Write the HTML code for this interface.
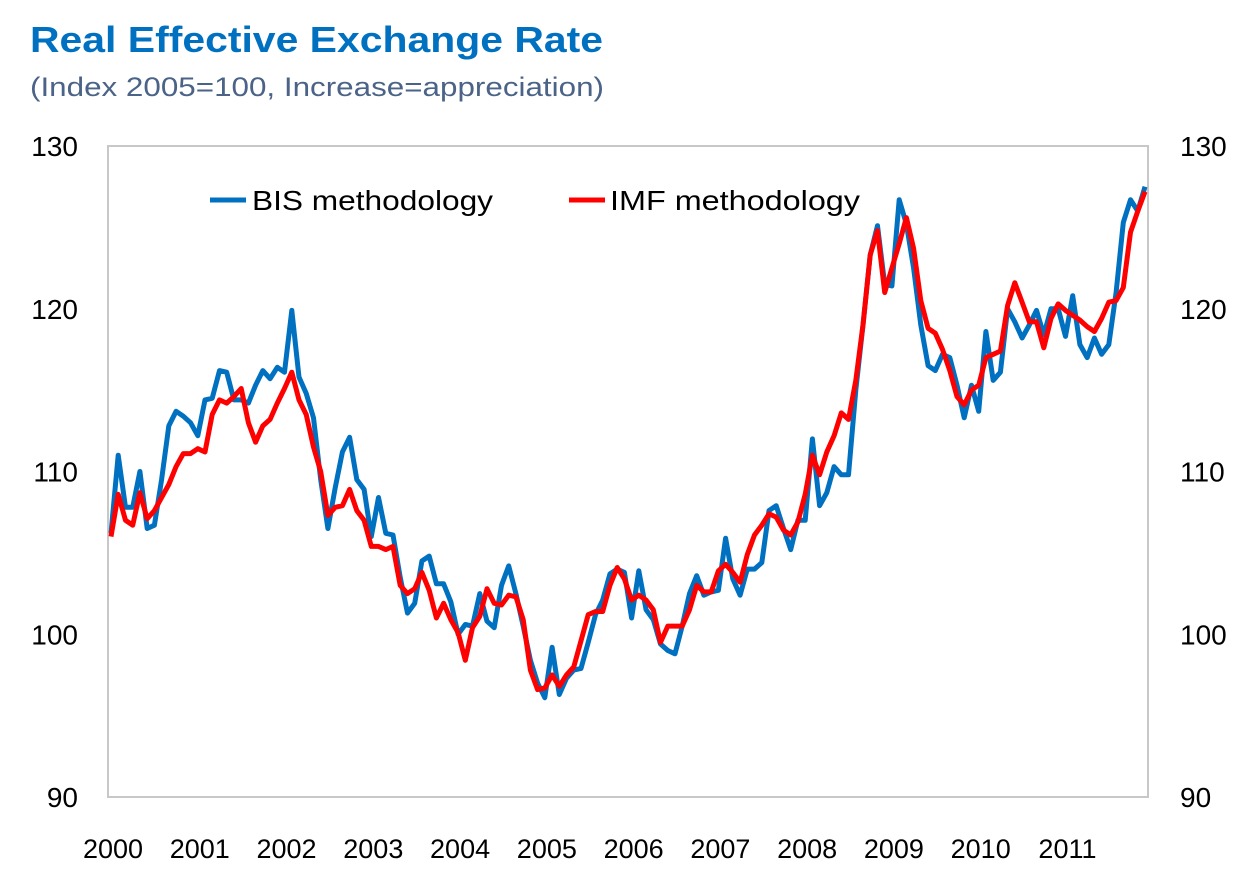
<!DOCTYPE html>
<html><head><meta charset="utf-8"><style>
html,body{margin:0;padding:0;background:#fff;}
svg{display:block;font-family:"Liberation Sans",sans-serif;}
</style></head><body>
<svg id="chart" width="1239" height="883" viewBox="0 0 1239 883" xmlns="http://www.w3.org/2000/svg">
<text x="30" y="52" font-size="36" font-weight="bold" fill="#0070C0" textLength="573" lengthAdjust="spacingAndGlyphs">Real Effective Exchange Rate</text>
<text x="30" y="96" font-size="27" fill="#4A6387" textLength="574" lengthAdjust="spacingAndGlyphs">(Index 2005=100, Increase=appreciation)</text>
<rect x="108" y="146" width="1040" height="651" fill="none" stroke="#C8C8C8" stroke-width="2"/>
<g id="yl"></g><g id="yr"></g><g id="xl"></g><g id="series"></g>
<g>
<line x1="210" y1="200" x2="246" y2="200" stroke="#0070C0" stroke-width="5"/>
<text x="252" y="210" font-size="28" fill="#000" textLength="241" lengthAdjust="spacingAndGlyphs">BIS methodology</text>
<line x1="569" y1="200" x2="605" y2="200" stroke="#FF0000" stroke-width="5"/>
<text x="610" y="210" font-size="28" fill="#000" textLength="250" lengthAdjust="spacingAndGlyphs">IMF methodology</text>
</g>
</svg>
<script>
const years = ["2000","2001","2002","2003","2004","2005","2006","2007","2008","2009","2010","2011"];
const yTicks = [90,100,110,120,130];
const bis = [106.2,111,107.8,107.8,110,106.5,106.7,109.5,112.8,113.7,113.4,113,
112.2,114.4,114.5,116.2,116.1,114.4,114.4,114.2,115.3,116.2,115.7,116.4,
116.1,119.9,115.8,114.8,113.3,109.5,106.5,109,111.2,112.1,109.5,108.9,
106,108.4,106.2,106.1,103.5,101.3,101.9,104.5,104.8,103.1,103.1,102,
100,100.6,100.5,102.5,100.8,100.4,103,104.2,102.5,100.5,98.4,97,
96.1,99.2,96.3,97.3,97.8,97.9,99.5,101.2,102.1,103.7,104,103.8,
101,103.9,101.5,100.9,99.4,99,98.8,100.5,102.5,103.6,102.4,102.6,
102.7,105.9,103.4,102.4,104,104,104.4,107.6,107.9,106.5,105.2,107,
107,112,107.9,108.7,110.3,109.8,109.8,115,119,123.3,125.1,121.5,
121.4,126.7,125.2,122.5,119,116.5,116.2,117.2,117,115.3,113.3,115.3,
113.7,118.6,115.6,116.1,120,119.2,118.2,119,119.9,118.4,120,120,
118.3,120.8,117.8,117,118.2,117.2,117.8,121,125.3,126.7,126,127.5];
const imf = [106,108.6,107,106.7,108.7,107.1,107.6,108.4,109.2,110.3,111.1,111.1,
111.4,111.2,113.5,114.4,114.2,114.6,115.1,113,111.8,112.8,113.2,114.2,
115.1,116.1,114.4,113.5,111.5,110,107.3,107.8,107.9,108.9,107.6,107,
105.4,105.4,105.2,105.4,103,102.5,102.8,103.8,102.7,101,101.9,100.9,
100.1,98.4,100.4,101.1,102.8,101.9,101.8,102.4,102.3,100.9,97.8,96.6,
96.7,97.5,96.8,97.5,98,99.6,101.2,101.4,101.4,103,104.1,103.4,
102.1,102.4,102.1,101.5,99.5,100.5,100.5,100.5,101.5,103,102.6,102.6,
103.9,104.3,103.8,103.2,104.9,106.1,106.7,107.4,107.2,106.4,106.1,106.9,
108.6,111,109.8,111.2,112.2,113.6,113.2,115.6,119,123.3,124.8,121,
122.5,124,125.6,123.7,120.5,118.8,118.5,117.5,116.2,114.6,114.1,115,
115.3,117,117.2,117.4,120.2,121.6,120.4,119.2,119.2,117.6,119.4,120.3,
119.9,119.6,119.3,118.9,118.6,119.4,120.4,120.5,121.3,124.7,126,127.2];
const NS="http://www.w3.org/2000/svg";
const x0=108,x1=1148,yTop=146,yBot=797,vMin=90,vMax=130;
const nMonths=years.length*12;
function xScale(i){return x0+3+(i)*(x1-x0-6)/(nMonths-1);}
function yScale(v){return yBot-(v-vMin)/(vMax-vMin)*(yBot-yTop);}
function mk(tag,attrs,parent){const e=document.createElementNS(NS,tag);for(const k in attrs)e.setAttribute(k,attrs[k]);parent.appendChild(e);return e;}
const yl=document.getElementById('yl'),yr=document.getElementById('yr'),xl=document.getElementById('xl'),sg=document.getElementById('series');
yTicks.forEach(v=>{
  const t=mk('text',{x:78,y:yScale(v)+10,'font-size':28,'text-anchor':'end',fill:'#000'},yl);
  
  
  t.textContent=v;
  const t2=mk('text',{x:1180,y:yScale(v)+10,'font-size':28,fill:'#000'},yr);
  
  
  t2.textContent=v;
});
years.forEach((yr_,k)=>{
  const t=mk('text',{x:xScale(k*12)+2,y:858,'font-size':27,'text-anchor':'middle',fill:'#000'},xl);
  
  
  t.textContent=yr_;
});
function line(data,color,name){
  const d=data.map((v,i)=>(i?'L':'M')+xScale(i).toFixed(1)+','+yScale(v).toFixed(1)).join('');
  const p=mk('path',{d:d,fill:'none',stroke:color,'stroke-width':5,'stroke-linejoin':'round'},sg);
  
  
}
line(bis,'#0070C0','bis-series-line');
line(imf,'#FF0000','imf-series-line');
</script>
</body></html>
